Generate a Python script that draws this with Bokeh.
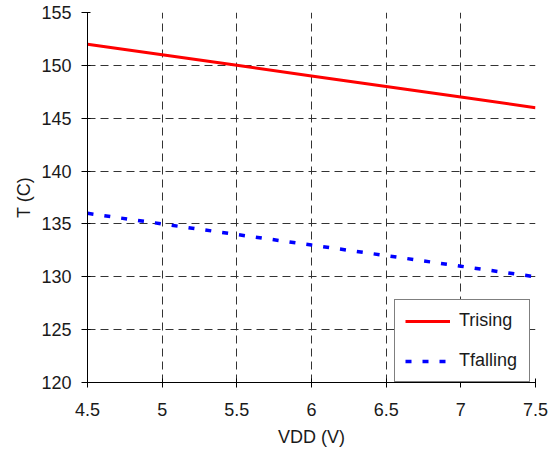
from bokeh.plotting import figure
from bokeh.models import Range1d, FixedTicker, NumeralTickFormatter, Legend, LegendItem
from bokeh.embed import file_html
from bokeh.resources import INLINE

vdd = [4.5, 5.0, 5.5, 6.0, 6.5, 7.0, 7.5]
t_rising = [152, 151, 150, 149, 148, 147, 146]
t_falling = [136, 135, 134, 133, 132, 131, 130]
x_ticks = [4.5, 5.0, 5.5, 6.0, 6.5, 7.0, 7.5]
y_ticks = [120, 125, 130, 135, 140, 145, 150, 155]

FONT = "Liberation Sans"

p = figure(frame_width=448, frame_height=370, output_backend="svg", toolbar_location=None,
           x_range=Range1d(4.5, 7.5), y_range=Range1d(120, 155),
           min_border_left=87, min_border_right=19, min_border_top=12, min_border_bottom=72)
p.outline_line_color = None
p.background_fill_color = "white"
p.border_fill_color = "white"

r1 = p.line(vdd, t_rising, line_color="#FF0000", line_width=3)
r2 = p.line(vdd, t_falling, line_color="#0000FF", line_width=3.5, line_dash="6 11")

for ax in (p.xaxis[0], p.yaxis[0]):
    ax.axis_line_color = "black"
    ax.major_tick_line_color = "black"
    ax.minor_tick_line_color = None
    ax.major_label_text_font = FONT
    ax.major_label_text_font_size = "18px"
    ax.major_label_text_color = "#1a1a1a"
    ax.axis_label_text_font = FONT
    ax.axis_label_text_font_size = "18px"
    ax.axis_label_text_font_style = "normal"
    ax.axis_label_text_color = "#1a1a1a"
    ax.formatter = NumeralTickFormatter(format="0.[0]")

p.xaxis.ticker = FixedTicker(ticks=x_ticks)
p.yaxis.ticker = FixedTicker(ticks=y_ticks)
p.xaxis.axis_label = "VDD (V)"
p.yaxis.axis_label = "T (C)"
p.xaxis.major_tick_in = 4
p.xaxis.major_tick_out = 5
p.yaxis.major_tick_in = 3
p.yaxis.major_tick_out = 6
p.xaxis.major_label_standoff = 15
p.yaxis.major_label_standoff = 10
p.xaxis.axis_label_standoff = 8
p.yaxis.axis_label_standoff = 4

p.xgrid.ticker = FixedTicker(ticks=x_ticks)
p.ygrid.ticker = FixedTicker(ticks=y_ticks)
for g in (p.xgrid[0], p.ygrid[0]):
    g.grid_line_color = "#333333"
    g.grid_line_width = 1
    g.grid_line_dash = "8 5"

legend = Legend(items=[LegendItem(label="Trising", renderers=[r1]),
                       LegendItem(label="Tfalling", renderers=[r2])],
                location=(307, 0))
legend.margin = 0
legend.padding = 10
legend.spacing = 19
legend.glyph_width = 45
legend.glyph_height = 20
legend.label_height = 20
legend.label_width = 60
legend.label_standoff = 9
legend.label_text_font = FONT
legend.label_text_font_size = "18px"
legend.label_text_color = "#1a1a1a"
legend.border_line_color = "black"
legend.border_line_width = 1
legend.background_fill_color = "white"
legend.background_fill_alpha = 1
p.add_layout(legend, "center")

open("out.html", "w").write(file_html(p, INLINE))
